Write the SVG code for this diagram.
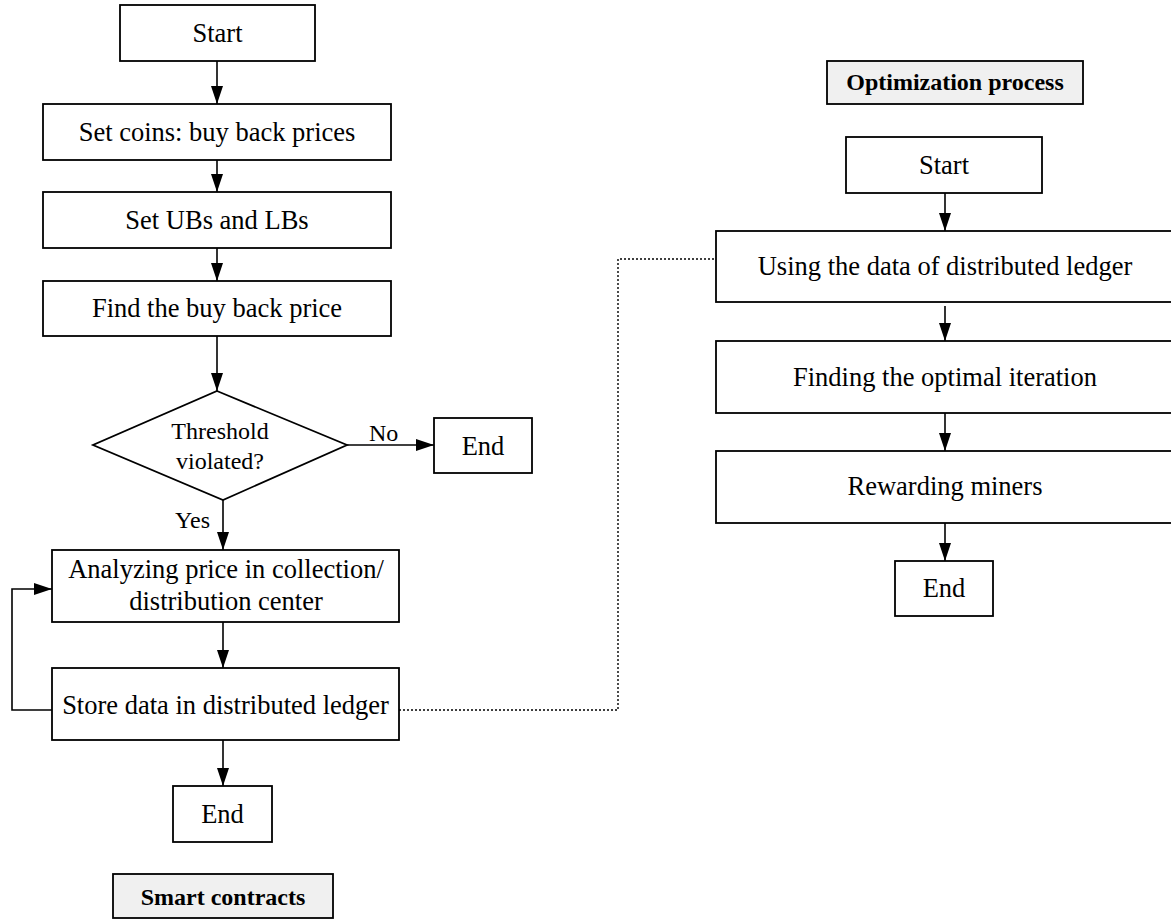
<svg xmlns="http://www.w3.org/2000/svg" width="1171" height="921" viewBox="0 0 1171 921">
<style>
.box{fill:#fff;stroke:#000;stroke-width:1.8}
.lbl{fill:#f0f0f0;stroke:#000;stroke-width:1.8}
.t{font-family:"Liberation Serif","Times New Roman",serif;font-size:26.5px;text-anchor:middle;fill:#000}
.s{font-family:"Liberation Serif","Times New Roman",serif;font-size:24px;fill:#000}
.b{font-family:"Liberation Serif","Times New Roman",serif;font-size:24px;font-weight:bold;text-anchor:middle;fill:#000}
.c{fill:none;stroke:#000;stroke-width:1.6}
.d{fill:none;stroke:#000;stroke-width:1.4;stroke-dasharray:2 2}
</style>
<defs>
<marker id="ah" markerUnits="userSpaceOnUse" markerWidth="18" markerHeight="12" refX="18" refY="6" orient="auto">
<path d="M0,0 L18,6 L0,12 z" fill="#000"/>
</marker>
</defs>
<rect width="1171" height="921" fill="#fff"/>
<g id="connectors">
<line class="c" x1="217" y1="61" x2="217" y2="104" marker-end="url(#ah)"/>
<line class="c" x1="217" y1="160" x2="217" y2="192" marker-end="url(#ah)"/>
<line class="c" x1="217" y1="248" x2="217" y2="281" marker-end="url(#ah)"/>
<line class="c" x1="217" y1="336" x2="217" y2="391" marker-end="url(#ah)"/>
<line class="c" x1="347" y1="445" x2="434" y2="445" marker-end="url(#ah)"/>
<line class="c" x1="223" y1="500" x2="223" y2="550" marker-end="url(#ah)"/>
<line class="c" x1="223" y1="622" x2="223" y2="668" marker-end="url(#ah)"/>
<line class="c" x1="223" y1="740" x2="223" y2="786" marker-end="url(#ah)"/>
<polyline class="c" points="52,710 12,710 12,589 52,589" marker-end="url(#ah)"/>
<polyline class="d" points="399,710 618,710 618,259 716,259"/>
<line class="c" x1="945" y1="193" x2="945" y2="231" marker-end="url(#ah)"/>
<line class="c" x1="945" y1="306" x2="945" y2="341" marker-end="url(#ah)"/>
<line class="c" x1="945" y1="413" x2="945" y2="451" marker-end="url(#ah)"/>
<line class="c" x1="945" y1="523" x2="945" y2="561" marker-end="url(#ah)"/>
<text class="s" x="369" y="441">No</text>
<text class="s" x="210" y="528" text-anchor="end">Yes</text>
</g>
<g id="start1"><rect class="box" x="120" y="5" width="195" height="56"/><text class="t" x="217.5" y="42">Start</text></g>
<g id="setcoins"><rect class="box" x="43" y="104" width="348" height="56"/><text class="t" x="217" y="141">Set coins: buy back prices</text></g>
<g id="setubs"><rect class="box" x="43" y="192" width="348" height="56"/><text class="t" x="217" y="229">Set UBs and LBs</text></g>
<g id="find"><rect class="box" x="43" y="281" width="348" height="55"/><text class="t" x="217" y="317">Find the buy back price</text></g>
<g id="threshold"><polygon class="box" points="217,391 347,445 223,500 93,445"/><text class="s" x="220" y="439" text-anchor="middle">Threshold</text><text class="s" x="220" y="469" text-anchor="middle">violated?</text></g>
<g id="end1"><rect class="box" x="434" y="418" width="98" height="55"/><text class="t" x="483" y="455">End</text></g>
<g id="analyze"><rect class="box" x="52" y="550" width="347" height="72"/><text class="t" x="226" y="578">Analyzing price in collection/</text><text class="t" x="226" y="610">distribution center</text></g>
<g id="store"><rect class="box" x="52" y="668" width="347" height="72"/><text class="t" x="225.5" y="714">Store data in distributed ledger</text></g>
<g id="end2"><rect class="box" x="173" y="786" width="99" height="56"/><text class="t" x="222.5" y="823">End</text></g>
<g id="smart"><rect class="lbl" x="113" y="874" width="220" height="44"/><text class="b" x="223" y="905">Smart contracts</text></g>
<g id="optlabel"><rect class="lbl" x="827" y="61" width="256" height="43"/><text class="b" x="955" y="90">Optimization process</text></g>
<g id="start2"><rect class="box" x="846" y="137" width="196" height="56"/><text class="t" x="944" y="174">Start</text></g>
<g id="using"><rect class="box" x="716" y="231" width="458" height="71"/><text class="t" x="945" y="275">Using the data of distributed ledger</text></g>
<g id="finding"><rect class="box" x="716" y="341" width="458" height="72"/><text class="t" x="945" y="386">Finding the optimal iteration</text></g>
<g id="reward"><rect class="box" x="716" y="451" width="458" height="72"/><text class="t" x="945" y="495">Rewarding miners</text></g>
<g id="end3"><rect class="box" x="895" y="561" width="98" height="55"/><text class="t" x="944" y="597">End</text></g>
</svg>
